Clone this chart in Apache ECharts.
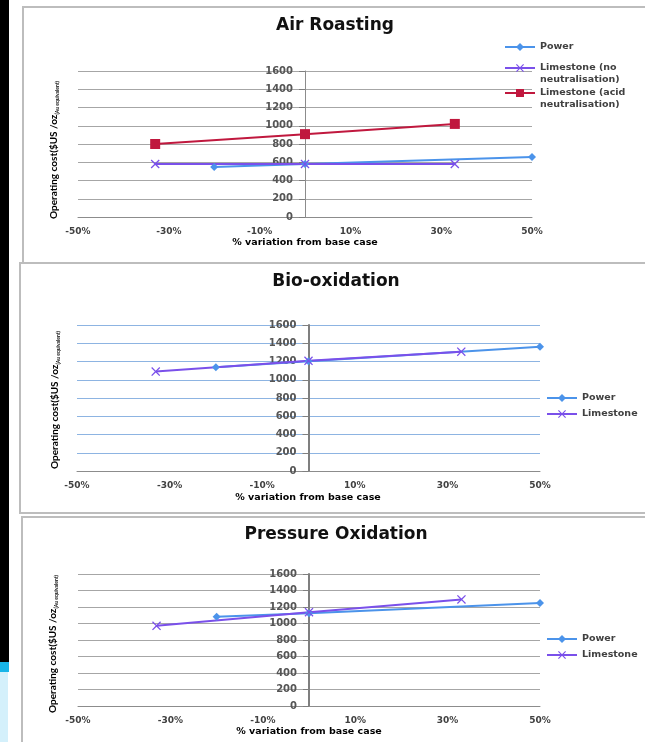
<!DOCTYPE html>
<html><head><meta charset="utf-8">
<script src="https://cdn.jsdelivr.net/npm/echarts@6/dist/echarts.min.js"></script>
<style>html,body{margin:0;padding:0;background:#fff}#c{width:645px;height:742px}</style>
</head><body><div id="c"></div>
<script>
// ---- data ----
const titles = ['Air Roasting', 'Bio-oxidation', 'Pressure Oxidation'];
const xTickLabels = ['-50%', '-30%', '-10%', '10%', '30%', '50%'];
const yTicks = [0, 200, 400, 600, 800, 1000, 1200, 1400, 1600];

const arPowerX = [-20, 0, 50];
const arPowerY = [548, 580, 658];
const arLimeNoX = [-33, 0, 33];
const arLimeNoY = [581, 581, 581];
const arLimeAcidX = [-33, 0, 33];
const arLimeAcidY = [800, 908, 1020];

const bioPowerX = [-20, 0, 50];
const bioPowerY = [1138, 1203, 1362];
const bioLimeX = [-33, 0, 33];
const bioLimeY = [1090, 1207, 1308];

const poxPowerX = [-20, 0, 50];
const poxPowerY = [1082, 1125, 1248];
const poxLimeX = [-33, 0, 33];
const poxLimeY = [972, 1137, 1292];

function pts(xs, ys) { return xs.map((x, i) => [x, ys[i]]); }

const C_POWER = '#4b93ea', C_LIME = '#7a50ea', C_ACID = '#c0183e';
const XSYM = 'path://M1,0L5,4L9,0L10,1L6,5L10,9L9,10L5,6L1,10L0,9L4,5L0,1Z';
const FONT = '"DejaVu Sans", Verdana, sans-serif';
const NFONT = 'Lato, "Open Sans", sans-serif';

const grids = [
  {left: 78, top: 71, width: 454, height: 146},
  {left: 77, top: 325, width: 463, height: 146},
  {left: 78, top: 574, width: 462, height: 132}
];
const gridColors = ['#a6a6a6', '#8db4e2', '#a6a6a6'];
const yAxisColors = ['#8c8c8c', '#7f7f7f', '#7f7f7f'];
const yAxisWidths = [1, 2, 2];

const xAxes = grids.map((g, i) => ({
  type: 'value', gridIndex: i, min: -50, max: 50, interval: 10,
  axisLine: {onZero: false, lineStyle: {color: '#8c8c8c', width: 1}},
  axisTick: {show: false},
  splitLine: {show: false},
  axisLabel: {
    color: '#404040', fontSize: 9, fontFamily: FONT, fontWeight: 'bold', margin: 10,
    formatter: v => { const k = Math.round(v / 10); return (k % 2 !== 0) ? xTickLabels[(k + 5) / 2] : ''; }
  }
}));
// shift the value axis so it sits at x = 0 of the horizontal axis
const yAxes = grids.map((g, i) => ({
  type: 'value', gridIndex: i, min: yTicks[0], max: yTicks[yTicks.length - 1], interval: 200,
  position: 'left', offset: -(g.width / 2),
  axisLine: {show: true, onZero: false, lineStyle: {color: yAxisColors[i], width: yAxisWidths[i]}},
  axisTick: {show: true, length: 6, lineStyle: {color: '#7f7f7f'}},
  splitLine: {show: true, lineStyle: {color: gridColors[i], width: 1.2}},
  axisLabel: {color: '#555', fontSize: 10, fontFamily: FONT, fontWeight: 'bold', margin: 12,
    formatter: v => String(v)}
}));

function line(name, data, gi, color, symbol, size) {
  return {
    name, type: 'line', xAxisIndex: gi, yAxisIndex: gi, data,
    symbol, symbolSize: size, showSymbol: true,
    lineStyle: {color, width: 2}, itemStyle: {color},
    emphasis: {disabled: true}, animation: false, z: 3
  };
}

const series = [
  line('Power', pts(arPowerX, arPowerY), 0, C_POWER, 'diamond', 8),
  line('Limestone (no neutralisation)', pts(arLimeNoX, arLimeNoY), 0, C_LIME, XSYM, 9),
  line('Limestone (acid neutralisation)', pts(arLimeAcidX, arLimeAcidY), 0, C_ACID, 'rect', 10),
  line('Power ', pts(bioPowerX, bioPowerY), 1, C_POWER, 'diamond', 8),
  line('Limestone', pts(bioLimeX, bioLimeY), 1, C_LIME, XSYM, 9),
  line('Power  ', pts(poxPowerX, poxPowerY), 2, C_POWER, 'diamond', 8),
  line('Limestone ', pts(poxLimeX, poxLimeY), 2, C_LIME, XSYM, 9)
];

const legendText = {color: '#404040', fontSize: 9.5, fontWeight: 'bold', fontFamily: FONT, lineHeight: 12};
function leg(names, left, top, fmt) {
  return {
    data: names, orient: 'vertical', left, top, itemWidth: 30, itemHeight: 10, itemGap: 4,
    textStyle: legendText, selectedMode: false, padding: 0,
    formatter: fmt || (n => n.trim())
  };
}
const legends = [
  leg(['Power'], 504, 41),
  leg(['Limestone (no neutralisation)'], 504, 50, () => '\nLimestone (no\nneutralisation)'),
  leg(['Limestone (acid neutralisation)'], 504, 75, () => '\nLimestone (acid\nneutralisation)'),
  leg(['Power ', 'Limestone'], 546, 392),
  leg(['Power  ', 'Limestone '], 546, 633)
];

const titleCenters = [[335, 17], [336, 273], [336, 526]];
const titleOpts = titles.map((t, i) => ({
  text: t, left: titleCenters[i][0], top: titleCenters[i][1], textAlign: 'center', padding: 0,
  textStyle: {fontSize: 17, fontWeight: 'bold', fontFamily: FONT, color: '#111'}
}));

const ynamePos = [[54, 150], [55, 400], [53, 644]];
const xnamePos = [[305, 243], [308, 498], [309, 732]];
const graphics = [
  {type: 'rect', shape: {x: 0, y: 0, width: 9, height: 662}, style: {fill: '#000'}, z: 0},
  {type: 'rect', shape: {x: 0, y: 662, width: 9, height: 10}, style: {fill: '#19b5e8'}, z: 0},
  {type: 'rect', shape: {x: 0, y: 672, width: 8, height: 70}, style: {fill: '#d4f0fb'}, z: 0},
  {type: 'rect', shape: {x: 23, y: 7, width: 640, height: 256}, style: {fill: 'none', stroke: '#bdbdbd', lineWidth: 2}, z: 0},
  {type: 'rect', shape: {x: 20, y: 263, width: 640, height: 250}, style: {fill: 'none', stroke: '#bdbdbd', lineWidth: 2}, z: 0},
  {type: 'rect', shape: {x: 22, y: 517, width: 640, height: 240}, style: {fill: 'none', stroke: '#bdbdbd', lineWidth: 2}, z: 0}
];
ynamePos.forEach(p => graphics.push({
  type: 'text', x: p[0], y: p[1], rotation: Math.PI / 2, z: 5,
  style: {
    text: '{a|Operating cost($US /oz}{b|(Au equivalent)}',
    align: 'center', verticalAlign: 'middle',
    rich: {
      a: {fontSize: 10, fontWeight: 'bold', fontFamily: NFONT, fill: '#000', color: '#000'},
      b: {fontSize: 5, fontWeight: 'bold', fontFamily: NFONT, fill: '#000', color: '#000', padding: [6, 0, 0, 0]}
    }
  }
}));
xnamePos.forEach(p => graphics.push({
  type: 'text', x: p[0], y: p[1], z: 5,
  style: {text: '% variation from base case', align: 'center', verticalAlign: 'middle',
    font: 'bold 9.5px ' + FONT, fill: '#000'}
}));

const chart = echarts.init(document.getElementById('c'), null, {renderer: 'canvas'});
chart.setOption({
  backgroundColor: '#fff', animation: false,
  title: titleOpts, grid: grids, xAxis: xAxes, yAxis: yAxes,
  legend: legends, series, graphic: graphics
});
</script></body></html>
